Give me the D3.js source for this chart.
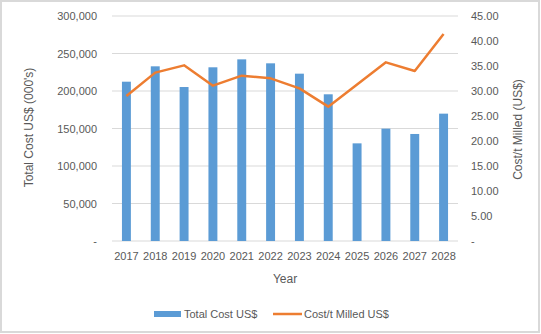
<!DOCTYPE html>
<html><head><meta charset="utf-8">
<script src="https://cdn.jsdelivr.net/npm/d3@7"></script>
<style>body{margin:0;background:#fff}svg{display:block}text{font-family:"Liberation Sans",Arial,sans-serif;fill:#595959}</style>
</head><body>
<svg id="c" width="541" height="334"></svg>
<script>
const years = ["2017","2018","2019","2020","2021","2022","2023","2024","2025","2026","2027","2028"];
const totalCost = [212400,232900,205300,231600,242200,236900,223100,195600,130200,149800,142700,169800];
const costPerTonne = [29.0,33.67,35.13,31.07,33.07,32.53,30.53,26.87,31.3,35.73,34.0,41.4];
const leftTicks = [0,50000,100000,150000,200000,250000,300000];
const rightTicks = [0,5,10,15,20,25,30,35,40,45];

const svg = d3.select("#c");
svg.append("rect").attr("x",1).attr("y",1).attr("width",538).attr("height",331)
  .attr("fill","#fff").attr("stroke","#d9d9d9").attr("stroke-width",2);

const L=112, R=458, T=16, B=241;
const x = d3.scaleBand().domain(years).range([L,R]).paddingInner(0.69).paddingOuter(0.345);
const yL = d3.scaleLinear().domain([0,300000]).range([B,T]);
const yR = d3.scaleLinear().domain([0,45]).range([B,T]);

// gridlines
svg.append("g").selectAll("line").data(leftTicks).join("line")
  .attr("x1",L).attr("x2",R).attr("y1",d=>yL(d)).attr("y2",d=>yL(d))
  .attr("stroke","#d9d9d9").attr("stroke-width",1);

// bars
svg.append("g").selectAll("rect").data(years).join("rect")
  .attr("x",d=>x(d)).attr("width",x.bandwidth())
  .attr("y",(d,i)=>yL(totalCost[i])).attr("height",(d,i)=>B-yL(totalCost[i]))
  .attr("fill","#5b9bd5");

// line
const line = d3.line().x((d,i)=>x(years[i])+x.bandwidth()/2).y(d=>yR(d));
svg.append("path").datum(costPerTonne).attr("d",line)
  .attr("fill","none").attr("stroke","#ed7d31").attr("stroke-width",2.5).attr("stroke-linejoin","round");

const fmtL = d=> d===0 ? "-" : d3.format(",")(d);
const fmtR = d=> d===0 ? "-" : d3.format(".2f")(d);

// left axis
const axL = d3.axisLeft(yL).tickValues(leftTicks).tickFormat(fmtL).tickSize(0).tickPadding(15);
const gL = svg.append("g").attr("transform",`translate(${L},0)`).call(axL);
gL.select(".domain").remove();
gL.selectAll("text").attr("font-size",11).attr("fill","#595959").style("font-family","'Liberation Sans',Arial,sans-serif");

// right axis
const axR = d3.axisRight(yR).tickValues(rightTicks).tickFormat(fmtR).tickSize(0).tickPadding(13);
const gR = svg.append("g").attr("transform",`translate(${R},0)`).call(axR);
gR.select(".domain").remove();
gR.selectAll("text").attr("font-size",11).attr("fill","#595959").style("font-family","'Liberation Sans',Arial,sans-serif");

// x axis
const axX = d3.axisBottom(x).tickSize(0).tickPadding(11);
const gX = svg.append("g").attr("transform",`translate(0,${B})`).call(axX);
gX.select(".domain").remove();
gX.selectAll("text").attr("font-size",11).attr("fill","#595959").style("font-family","'Liberation Sans',Arial,sans-serif");

// axis titles
svg.append("text").attr("x",(L+R)/2).attr("y",283).attr("text-anchor","middle").attr("font-size",12).text("Year");
svg.append("text").attr("transform",`translate(33,${(T+B)/2 - 1}) rotate(-90)`).attr("text-anchor","middle").attr("font-size",12).text("Total Cost US$ (000's)");
svg.append("text").attr("transform",`translate(522,${(T+B)/2 + 1}) rotate(-90)`).attr("text-anchor","middle").attr("font-size",12).text("Cost/t Milled (US$)");

// legend
const lg = svg.append("g");
lg.append("rect").attr("x",154).attr("y",311).attr("width",27).attr("height",6).attr("fill","#5b9bd5");
lg.append("text").attr("x",184).attr("y",317.5).attr("font-size",11).text("Total Cost US$");
lg.append("line").attr("x1",273).attr("x2",302).attr("y1",314).attr("y2",314).attr("stroke","#ed7d31").attr("stroke-width",2.5);
lg.append("text").attr("x",304).attr("y",317.5).attr("font-size",11).text("Cost/t Milled US$");
</script>
</body></html>
